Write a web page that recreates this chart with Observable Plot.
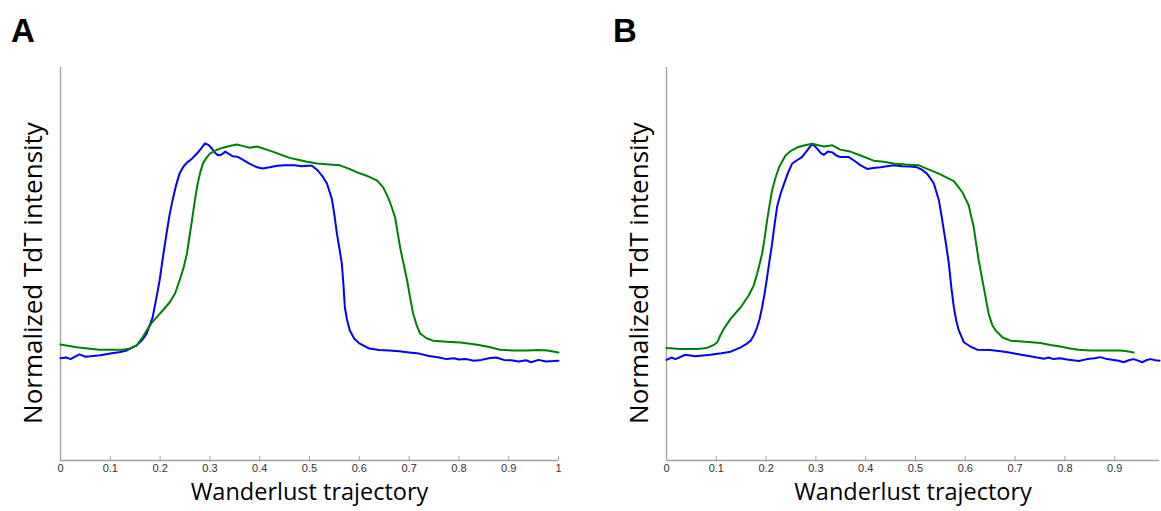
<!DOCTYPE html>
<html>
<head>
<meta charset="utf-8">
<script src="https://cdn.jsdelivr.net/npm/d3@7"></script>
<script src="https://cdn.jsdelivr.net/npm/@observablehq/plot@0.6"></script>
<style>
  html, body { margin: 0; padding: 0; background: #fff; overflow: hidden; }
  #wrap { position: relative; width: 1161px; height: 511px; }
  .panel { position: absolute; top: 0; }
  .letter { position: absolute; top: 14px; font: bold 33px "Liberation Sans", Arial, sans-serif; line-height: 1; color: #000; }
</style>
</head>
<body>
<div id="wrap">
  <div class="panel" id="pA" style="left:0px"></div>
  <div class="panel" id="pB" style="left:580px"></div>
  <div class="letter" style="left:11px">A</div>
  <div class="letter" style="left:613px">B</div>
</div>
<script>
// ---- data (x = Wanderlust trajectory, y = normalized TdT intensity) ----
const panelLabels = ["A", "B"];
const xTitle = "Wanderlust trajectory";
const yTitle = "Normalized TdT intensity";
const xTicksA = [0, 0.1, 0.2, 0.3, 0.4, 0.5, 0.6, 0.7, 0.8, 0.9, 1];
const xTicksB = [0, 0.1, 0.2, 0.3, 0.4, 0.5, 0.6, 0.7, 0.8, 0.9];

const blueA = [[0,0.26],[0.012,0.262],[0.02,0.258],[0.038,0.27],[0.05,0.264],[0.06,0.265],[0.08,0.268],[0.1,0.272],[0.12,0.276],[0.133,0.28],[0.145,0.288],[0.153,0.293],[0.163,0.305],[0.173,0.323],[0.185,0.364],[0.192,0.41],[0.199,0.458],[0.206,0.52],[0.213,0.578],[0.219,0.625],[0.225,0.662],[0.232,0.7],[0.239,0.73],[0.247,0.748],[0.254,0.758],[0.264,0.768],[0.274,0.781],[0.283,0.795],[0.29,0.807],[0.297,0.803],[0.304,0.794],[0.31,0.783],[0.316,0.777],[0.323,0.778],[0.331,0.786],[0.338,0.78],[0.346,0.774],[0.355,0.773],[0.365,0.766],[0.38,0.755],[0.395,0.746],[0.405,0.743],[0.42,0.746],[0.435,0.75],[0.45,0.751],[0.47,0.751],[0.485,0.749],[0.495,0.75],[0.505,0.75],[0.515,0.74],[0.525,0.725],[0.535,0.705],[0.545,0.665],[0.55,0.625],[0.555,0.578],[0.56,0.54],[0.565,0.5],[0.568,0.45],[0.571,0.39],[0.575,0.36],[0.581,0.331],[0.59,0.31],[0.6,0.298],[0.62,0.285],[0.64,0.281],[0.66,0.28],[0.68,0.278],[0.7,0.275],[0.72,0.272],[0.74,0.266],[0.76,0.262],[0.775,0.258],[0.79,0.26],[0.8,0.257],[0.815,0.258],[0.83,0.254],[0.845,0.256],[0.86,0.26],[0.875,0.262],[0.89,0.256],[0.905,0.255],[0.92,0.252],[0.935,0.255],[0.945,0.25],[0.96,0.256],[0.975,0.252],[0.99,0.253],[1,0.254]];

const greenA = [[0,0.295],[0.032,0.288],[0.078,0.282],[0.125,0.282],[0.14,0.285],[0.153,0.293],[0.163,0.31],[0.173,0.331],[0.183,0.35],[0.193,0.364],[0.206,0.383],[0.219,0.402],[0.23,0.425],[0.239,0.458],[0.247,0.49],[0.254,0.527],[0.259,0.57],[0.264,0.611],[0.269,0.655],[0.274,0.695],[0.28,0.73],[0.286,0.756],[0.293,0.77],[0.3,0.781],[0.313,0.79],[0.326,0.796],[0.34,0.8],[0.354,0.804],[0.367,0.8],[0.38,0.796],[0.394,0.799],[0.404,0.795],[0.414,0.791],[0.43,0.784],[0.447,0.776],[0.46,0.77],[0.475,0.766],[0.495,0.76],[0.515,0.756],[0.54,0.753],[0.561,0.751],[0.58,0.742],[0.596,0.733],[0.616,0.724],[0.636,0.712],[0.648,0.695],[0.658,0.669],[0.665,0.645],[0.672,0.618],[0.677,0.58],[0.682,0.542],[0.689,0.5],[0.696,0.458],[0.702,0.415],[0.708,0.374],[0.715,0.345],[0.722,0.323],[0.735,0.311],[0.748,0.305],[0.775,0.302],[0.803,0.3],[0.823,0.297],[0.843,0.293],[0.863,0.288],[0.883,0.282],[0.91,0.28],[0.938,0.28],[0.96,0.281],[0.978,0.28],[1,0.275]];

const blueB = [[0,0.256],[0.01,0.262],[0.018,0.258],[0.038,0.269],[0.058,0.265],[0.088,0.269],[0.11,0.273],[0.129,0.277],[0.149,0.288],[0.16,0.296],[0.169,0.305],[0.176,0.32],[0.182,0.339],[0.187,0.36],[0.192,0.39],[0.197,0.425],[0.202,0.466],[0.207,0.51],[0.212,0.551],[0.217,0.6],[0.222,0.645],[0.229,0.678],[0.236,0.704],[0.244,0.732],[0.252,0.755],[0.262,0.764],[0.272,0.772],[0.283,0.79],[0.293,0.806],[0.303,0.793],[0.31,0.782],[0.316,0.778],[0.324,0.786],[0.333,0.784],[0.341,0.776],[0.349,0.772],[0.358,0.772],[0.366,0.772],[0.378,0.762],[0.39,0.751],[0.403,0.742],[0.415,0.744],[0.43,0.746],[0.443,0.749],[0.456,0.751],[0.473,0.749],[0.49,0.748],[0.503,0.746],[0.513,0.74],[0.523,0.73],[0.53,0.718],[0.537,0.704],[0.547,0.662],[0.552,0.625],[0.557,0.585],[0.562,0.545],[0.567,0.501],[0.572,0.44],[0.577,0.39],[0.582,0.355],[0.587,0.331],[0.597,0.301],[0.61,0.29],[0.624,0.282],[0.65,0.281],[0.671,0.278],[0.688,0.275],[0.704,0.271],[0.73,0.265],[0.758,0.259],[0.767,0.262],[0.777,0.258],[0.79,0.26],[0.804,0.257],[0.816,0.255],[0.828,0.253],[0.845,0.258],[0.86,0.26],[0.871,0.263],[0.885,0.258],[0.898,0.256],[0.908,0.254],[0.918,0.25],[0.928,0.255],[0.938,0.258],[0.947,0.254],[0.955,0.25],[0.963,0.255],[0.972,0.258],[0.982,0.255],[0.99,0.254]];

const greenB = [[0,0.286],[0.028,0.284],[0.062,0.284],[0.08,0.286],[0.088,0.29],[0.095,0.294],[0.102,0.301],[0.108,0.318],[0.115,0.335],[0.129,0.361],[0.149,0.39],[0.165,0.42],[0.175,0.445],[0.182,0.475],[0.187,0.5],[0.192,0.526],[0.197,0.565],[0.202,0.611],[0.207,0.65],[0.212,0.687],[0.219,0.72],[0.226,0.746],[0.239,0.776],[0.25,0.788],[0.263,0.797],[0.28,0.803],[0.293,0.806],[0.305,0.802],[0.316,0.799],[0.333,0.802],[0.349,0.791],[0.369,0.786],[0.39,0.776],[0.416,0.763],[0.436,0.76],[0.456,0.756],[0.48,0.753],[0.507,0.751],[0.527,0.74],[0.547,0.73],[0.577,0.711],[0.594,0.683],[0.607,0.649],[0.612,0.62],[0.617,0.594],[0.622,0.55],[0.627,0.509],[0.637,0.441],[0.647,0.373],[0.654,0.345],[0.661,0.331],[0.675,0.313],[0.691,0.305],[0.72,0.302],[0.751,0.299],[0.771,0.294],[0.791,0.29],[0.81,0.285],[0.828,0.282],[0.85,0.28],[0.871,0.28],[0.912,0.28],[0.925,0.278],[0.938,0.275]];

const blueColor = "#0000ff";
const greenColor = "#008000";
const axisGray = "#a0a0a0";

function panel({blue, green, ticks, xDomain, width, marginLeft, marginRight}) {
  return Plot.plot({
    width, height: 511,
    marginLeft, marginRight, marginTop: 67, marginBottom: 51,
    x: {domain: xDomain},
    y: {domain: [0, 1], axis: null},
    style: {background: "transparent", fontFamily: "'Liberation Sans', Arial, sans-serif", overflow: "visible"},
    marks: [
      Plot.ruleX([xDomain[0]], {stroke: axisGray, strokeWidth: 1.3}),
      Plot.ruleY([0], {stroke: axisGray, strokeWidth: 1.3}),
      Plot.axisX({ticks, tickSize: -4, tickPadding: 8, tickFormat: d => String(d),
        fontSize: 11, color: "#333", stroke: axisGray, label: null}),
      Plot.line(blue, {x: d => d[0], y: d => d[1], stroke: blueColor, strokeWidth: 2}),
      Plot.line(green, {x: d => d[0], y: d => d[1], stroke: greenColor, strokeWidth: 2}),
      Plot.text([yTitle], {frameAnchor: "left", textAnchor: "middle", rotate: -90, dx: -27, dy: 9,
        fontSize: 26, fontFamily: "'Open Sans', sans-serif", fill: "#000"}),
      Plot.text([xTitle], {frameAnchor: "bottom", textAnchor: "middle", dy: 39, fontSize: 23.5,
        fontFamily: "'Open Sans', sans-serif", fill: "#000"})
    ]
  });
}

document.getElementById("pA").append(panel({blue: blueA, green: greenA, ticks: xTicksA,
  xDomain: [0, 1], width: 580, marginLeft: 60, marginRight: 22}));
document.getElementById("pB").append(panel({blue: blueB, green: greenB, ticks: xTicksB,
  xDomain: [0, 0.99], width: 581, marginLeft: 86, marginRight: 2}));
</script>
</body>
</html>
